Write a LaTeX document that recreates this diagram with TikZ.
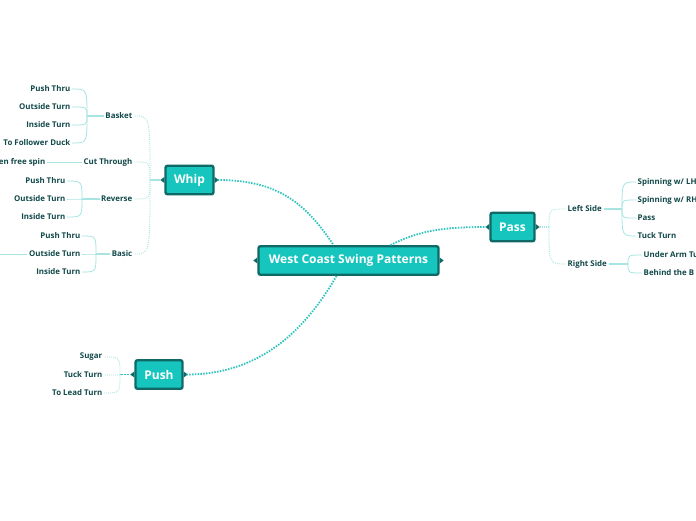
\documentclass[tikz,border=0pt]{standalone}
\usepackage{fontspec}
\setmainfont{Open Sans}
\newlength{\du}
\setlength{\du}{1pt}
\definecolor{topicfill}{HTML}{16C5BE}
\definecolor{topicline}{HTML}{0F6A67}
\definecolor{labeltext}{HTML}{12494A}
\definecolor{branchline}{HTML}{A6E5E2}
\definecolor{mainline}{HTML}{2DC5BF}
\tikzset{
  topic/.style={draw=topicline, fill=topicfill, line width=2.4\du, rounded corners=2\du,
    text=white, font=\fontsize{12}{14}\selectfont\bfseries, inner sep=0pt, minimum height=28.5\du},
  leaf/.style={text=labeltext, font=\fontsize{7.9}{9}\selectfont\bfseries, inner sep=1.5\du},
  mainlink/.style={draw=mainline, line width=1.8\du, dash pattern=on 1.5\du off 1.3\du},
  sublink/.style={draw=branchline, line width=0.8\du, dash pattern=on 1\du off 1\du},
  leaflink/.style={draw=branchline, line width=0.8\du},
  stub/.style={draw=branchline, line width=1.6\du}
}
\begin{document}
\begin{tikzpicture}[x=1\du,y=-1\du]
\useasboundingbox (0,0) rectangle (696,520);
\fill[white] (0,0) rectangle (696,520);
% topics
\node[topic, minimum width=180\du] (root) at (348.5,260.5) {West Coast Swing Patterns};
\node[topic, minimum width=48\du] (whip) at (189.5,180) {Whip};
\node[topic, minimum width=44\du] (pass) at (512.5,227) {Pass};
\node[topic, minimum width=47\du] (push) at (159,374.5) {Push};
\foreach \n in {root,whip,pass,push}{
  \fill[topicline] (\n.west) ++(0,-3) -- ++(-4,3) -- ++(4,3) -- cycle;
  \fill[topicline] (\n.east) ++(0,-3) -- ++(4,3) -- ++(-4,3) -- cycle;
}
% main links
\coordinate (rootwhip) at ([xshift=-15\du]root.north);
\coordinate (rootpass) at ([xshift=42\du]root.north);
\coordinate (rootpush) at ([xshift=-12\du]root.south);
\draw[mainlink] ([xshift=3\du]whip.east) .. controls +(60,0) and +(-28,-42) .. (rootwhip);
\draw[mainlink] (rootpass) .. controls +(28,-14) and +(-45,0) .. ([xshift=-3\du]pass.west);
\draw[mainlink] (rootpush) .. controls +(-30,52) and +(75,0) .. ([xshift=3\du]push.east);
% whip branch
\node[leaf, anchor=east] (basket) at (134,116) {Basket};
\node[leaf, anchor=east] (cutthrough) at (134,162) {Cut Through};
\node[leaf, anchor=east] (reverse) at (134,199) {Reverse};
\node[leaf, anchor=east] (basic) at (134,254) {Basic};
\coordinate (whipj) at (150,180);
\draw[stub] ([xshift=-4\du]whip.west) -- (whipj);
\foreach \c in {basket,cutthrough,reverse,basic}
  \draw[sublink] (whipj) .. controls (whipj |- \c.east) .. (\c.east);
% basket
\node[leaf, anchor=east] (bpushthru) at (72,89) {Push Thru};
\node[leaf, anchor=east] (boutside) at (72,107) {Outside Turn};
\node[leaf, anchor=east] (binside) at (72,125) {Inside Turn};
\node[leaf, anchor=east] (bduck) at (72,143) {To Follower Duck};
\coordinate (basketj) at (87,116);
\draw[stub] (basket.west) -- (basketj);
\foreach \c in {bpushthru,boutside,binside,bduck}
  \draw[leaflink] (basketj) .. controls (basketj |- \c.east) .. (\c.east);
% cut through
\node[leaf, anchor=east] (freespin) at (47,162) {en free spin};
\draw[leaflink] (cutthrough.west) -- (freespin.east);
% reverse
\node[leaf, anchor=east] (rpushthru) at (67,181) {Push Thru};
\node[leaf, anchor=east] (routside) at (67,199) {Outside Turn};
\node[leaf, anchor=east] (rinside) at (67,217) {Inside Turn};
\coordinate (reversej) at (82,199);
\draw[stub] (reverse.west) -- (reversej);
\foreach \c in {rpushthru,routside,rinside}
  \draw[leaflink] (reversej) .. controls (reversej |- \c.east) .. (\c.east);
% basic
\node[leaf, anchor=east] (apushthru) at (82,236) {Push Thru};
\node[leaf, anchor=east] (aoutside) at (82,254) {Outside Turn};
\node[leaf, anchor=east] (ainside) at (82,272) {Inside Turn};
\coordinate (basicj) at (96,254);
\draw[stub] (basic.west) -- (basicj);
\foreach \c in {apushthru,aoutside,ainside}
  \draw[leaflink] (basicj) .. controls (basicj |- \c.east) .. (\c.east);
\coordinate (offleft) at (-4,254);
\draw[leaflink] (aoutside.west) -- (offleft);
% push branch
\node[leaf, anchor=east] (sugar) at (104,357) {Sugar};
\node[leaf, anchor=east] (tuckturn) at (104,375) {Tuck Turn};
\node[leaf, anchor=east] (leadturn) at (104,393) {To Lead Turn};
\coordinate (pushj) at (120,374.5);
\draw[mainlink, line width=1.4\du] ([xshift=-3\du]push.west) -- (pushj);
\foreach \c in {sugar,tuckturn,leadturn}
  \draw[sublink] (pushj) .. controls (pushj |- \c.east) .. (\c.east);
% pass branch
\node[leaf, anchor=west] (leftside) at (566,209) {Left Side};
\node[leaf, anchor=west] (rightside) at (566,264) {Right Side};
\coordinate (passj) at (549,227);
\draw[sublink, line width=1.2\du] ([xshift=4\du]pass.east) -- (passj);
\foreach \c in {leftside,rightside}
  \draw[sublink] (passj) .. controls (passj |- \c.west) .. (\c.west);
\node[leaf, anchor=west] (lspinlh) at (636,182) {Spinning w/ LH};
\node[leaf, anchor=west] (lspinrh) at (636,200) {Spinning w/ RH};
\node[leaf, anchor=west] (lpass) at (636,218) {Pass};
\node[leaf, anchor=west] (ltuck) at (636,236) {Tuck Turn};
\coordinate (leftj) at (622,209);
\draw[stub] (leftside.east) -- (leftj);
\foreach \c in {lspinlh,lspinrh,lpass,ltuck}
  \draw[leaflink] (leftj) .. controls (leftj |- \c.west) .. (\c.west);
\node[leaf, anchor=west] (underarm) at (642,255) {Under Arm Tu};
\node[leaf, anchor=west] (behind) at (642,273) {Behind the B};
\coordinate (rightj) at (628,264);
\draw[stub] (rightside.east) -- (rightj);
\foreach \c in {underarm,behind}
  \draw[leaflink] (rightj) .. controls (rightj |- \c.west) .. (\c.west);
\end{tikzpicture}
\end{document}
